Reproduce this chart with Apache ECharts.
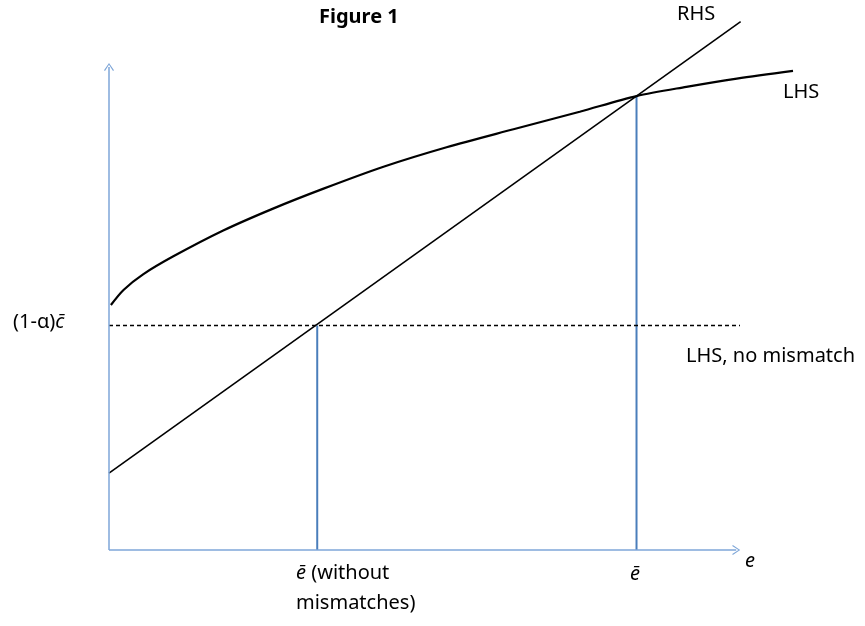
<!DOCTYPE html>
<html>
<head>
<meta charset="utf-8">
<script src="https://cdn.jsdelivr.net/npm/echarts@6/dist/echarts.min.js"></script>
<style>html,body{margin:0;padding:0;background:#fff}#c{width:865px;height:626px}</style>
</head>
<body>
<div id="c"></div>
<script>
// ---- data (axis units: e-axis 0..100, value axis 0..100) ----
var lhsCurve = [[0.3,50.3],[2.3,53.4],[5.4,56.6],[10.2,60.3],[18.1,65.6],[26.0,70.1],[34.0,74.2],[43.5,78.7],[53.5,82.7],[64.1,86.4],[74.6,90.0],[83.6,93.2],[91.5,95.1],[99.5,96.8],[108.4,98.4]];
var rhsLine = [[0,15.8],[100.1,108.5]];
var noMismatchLevel = 46.1;
var noMismatchRange = [0, 100];
var eWithoutMismatch = 33.0;
var eBar = 83.6;
var eBarLevel = 93.2;
var axisEnds = {x: 99.4, y: 99.2};
var titleText = 'Figure 1';

var chart = echarts.init(document.getElementById('c'));
var FONT = 'Noto Sans';
var FS = 20;
var axisColor = '#7EA6D8';
var chevron = 'path://M0,10 L5,0 L10,10 L9,10.8 L5,2.4 L1,10.8 Z';

function txt(left, top, text, extra) {
  return {
    type: 'text', left: left, top: top,
    style: Object.assign({text: text, font: FS + 'px "' + FONT + '"', fill: '#000'}, extra || {})
  };
}

chart.setOption({
  animation: false,
  backgroundColor: '#fff',
  grid: {left: 109, top: 63, right: 61.9, bottom: 76, containLabel: false},
  xAxis: {
    type: 'value', min: 0, max: 110,
    axisLine: {show: false}, axisTick: {show: false}, axisLabel: {show: false}, splitLine: {show: false}
  },
  yAxis: {
    type: 'value', min: 0, max: 100,
    axisLine: {show: false}, axisTick: {show: false}, axisLabel: {show: false}, splitLine: {show: false}
  },
  series: [
    {type: 'line', name: 'axes', data: [], symbol: 'none', silent: true,
      markLine: {
        silent: true, animation: false,
        symbol: ['none', chevron], symbolSize: [10, 8],
        label: {show: false},
        lineStyle: {color: axisColor, width: 1.5, type: 'solid'},
        emphasis: {disabled: true},
        data: [
          [{coord: [0, 0]}, {coord: [axisEnds.x, 0]}],
          [{coord: [0, 0]}, {coord: [0, axisEnds.y]}]
        ]
      }
    },
    {type: 'line', name: 'vline1', data: [[eWithoutMismatch, 0], [eWithoutMismatch, noMismatchLevel]], symbol: 'none', lineStyle: {color: '#4A7EBB', width: 2}, clip: false},
    {type: 'line', name: 'vline2', data: [[eBar, 0], [eBar, eBarLevel]], symbol: 'none', lineStyle: {color: '#4A7EBB', width: 2}, clip: false},
    {type: 'line', name: 'LHS no mismatch', data: [[noMismatchRange[0], noMismatchLevel], [noMismatchRange[1], noMismatchLevel]], symbol: 'none', lineStyle: {color: '#000', width: 1.5, type: [4, 3]}, clip: false},
    {type: 'line', name: 'RHS', data: rhsLine, symbol: 'none', lineStyle: {color: '#000', width: 1.6}, clip: false},
    {type: 'line', name: 'LHS', data: lhsCurve, smooth: 0.3, symbol: 'none', lineStyle: {color: '#000', width: 2.2}, clip: false}
  ],
  graphic: [
    txt(319, 7, titleText, {font: 'bold ' + FS + 'px "' + FONT + '"'}),
    txt(677, 4, 'RHS'),
    txt(783, 82, 'LHS'),
    txt(686, 346, 'LHS, no mismatch'),
    {type: 'text', left: 13, top: 312, style: {
      text: '{n|(1-α)}{i|c̄}',
      rich: {n: {font: FS + 'px "' + FONT + '"', fill: '#000'}, i: {font: 'italic ' + FS + 'px "' + FONT + '"', fill: '#000'}}
    }},
    {type: 'text', left: 296, top: 563, style: {
      text: '{i|ē}{n| (without}\n{n|mismatches)}',
      rich: {n: {font: FS + 'px "' + FONT + '"', fill: '#000', lineHeight: 30}, i: {font: 'italic ' + FS + 'px "' + FONT + '"', fill: '#000', lineHeight: 30}}
    }},
    txt(630, 564, 'ē', {font: 'italic ' + FS + 'px "' + FONT + '"'}),
    txt(745, 551, 'e', {font: 'italic ' + FS + 'px "' + FONT + '"'})
  ]
});
</script>
</body>
</html>
